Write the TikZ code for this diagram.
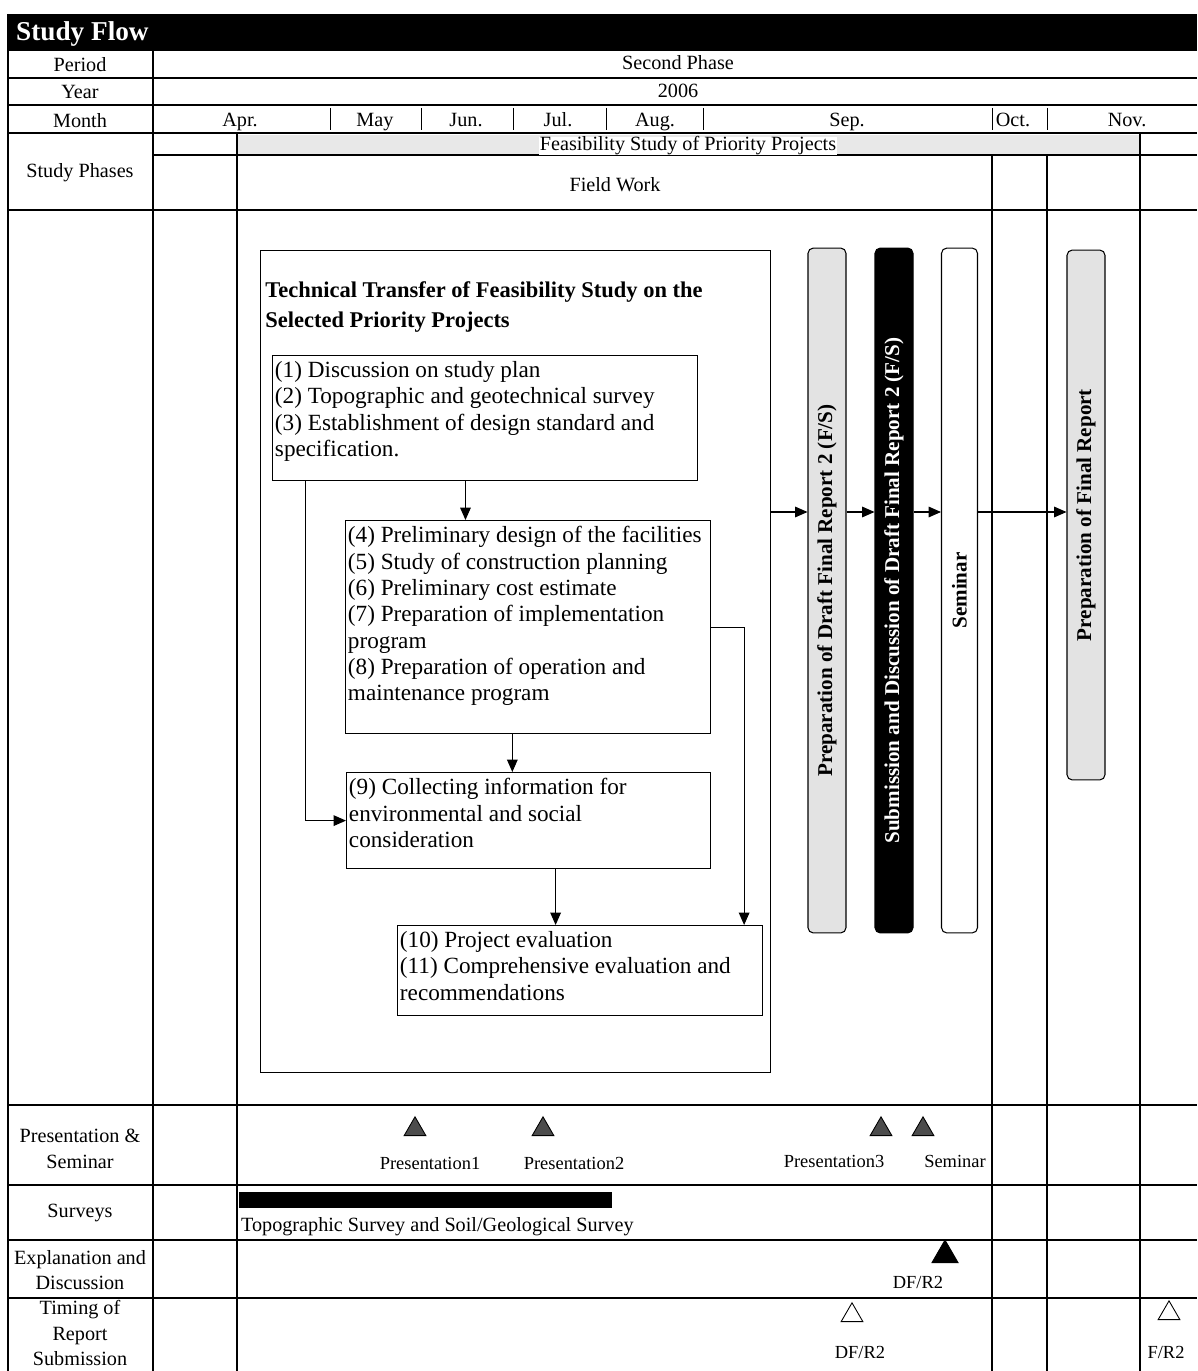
\documentclass[tikz,border=0pt]{standalone}
\usepackage{fontspec}
\setmainfont{Liberation Serif}
\usetikzlibrary{%
	arrows.meta,%
	positioning,%
	calc,%
	shapes.geometric
}

\tikzset{
	gridline/.style={line width=0.6pt},
	rowlabel/.style={align=center, font=\fontsize{11.5}{14.5}\selectfont},
	headtext/.style={font=\fontsize{11.5}{13}\selectfont, text height=1.6ex, text depth=0.4ex},
	taskbox/.style={draw, line width=0.7pt, anchor=north west, inner sep=0pt},
	tasktext/.style={anchor=north west, align=left, inner xsep=1.5pt, inner ysep=3.5pt, font=\fontsize{13.2}{15}\selectfont},
	phasebar/.style={draw, line width=0.6pt, rounded corners=3pt, inner sep=0pt, font=\bfseries\fontsize{12}{14}\selectfont},
	flowarrow/.style={-{Triangle[length=7pt,width=6pt]}, line width=0.6pt},
	tri/.style={regular polygon, regular polygon sides=3, draw, line width=0.5pt, inner sep=0pt, minimum size=0.5cm, anchor=south},
	marklabel/.style={font=\fontsize{10.5}{12}\selectfont, text height=1.6ex, text depth=0.4ex}
}

\begin{document}
\begin{tikzpicture}[>=Stealth, x=0.02cm, y=-0.02cm]
		\useasboundingbox (0,0) rectangle (1197,1371);
		% heading bar
		\fill (8,14) rectangle (1197,50);
		\node [anchor=west, text=white, font=\bfseries\fontsize{15.5}{17}\selectfont] (title) at (10,34) {Study Flow};
		% table
		\fill [gray!18] (237,135) rectangle (1140,155);
		\foreach \y in {50,78,105,133,210,1105,1185,1240,1298}
			\draw [gridline] (8,\y) -- (1197,\y);
		\draw [gridline] (153,155) -- (1197,155);
		\draw [gridline] (8,14) -- (8,1371);
		\draw [gridline] (153,50) -- (153,1371);
		\draw [gridline] (237,133) -- (237,1371);
		\draw [gridline] (1140,133) -- (1140,1371);
		\foreach \x in {992,1047}
			\draw [gridline] (\x,155) -- (\x,1371);
		\foreach \x in {330,421,513,606,703,992,1047}
			\draw [line width=0.4pt] (\x,108) -- (\x,130);
		% row labels
		\foreach \t/\y [count=\k] in {Period/65, Year/92, Month/121, Study Phases/173, {Presentation \&\\Seminar}/1149, Surveys/1213, {Explanation and\\Discussion}/1270, {Timing of\\Report\\Submission}/1333}
			\node [rowlabel] (row\k) at (80,\y) {\t};
		\node [headtext] (period) at (678,65) {Second Phase};
		\node [headtext] (year) at (678,93) {2006};
		\foreach \m/\x [count=\k] in {Apr./240, May/375, Jun./466, Jul./558, Aug./655, Sep./847, Oct./1013, Nov./1127}
			\node [headtext] (month\k) at (\x,122) {\m};
		\node [headtext, fill=white, inner sep=0.5pt] (fstudy) at (688,146) {Feasibility Study of Priority Projects};
		\node [headtext] (fwork) at (615,187) {Field Work};
		% technical transfer
		\node [taskbox, minimum width=10.2cm, minimum height=16.44cm] (outer) at (260,250) {};
		\node [anchor=north west, align=left, inner sep=0pt, font=\bfseries\fontsize{12.8}{17}\selectfont] (heading) at (265,281) {Technical Transfer of Feasibility Study on the\\Selected Priority Projects};
		\node [taskbox, minimum width=8.5cm, minimum height=2.5cm] (b1) at (272,355) {};
		\node [tasktext] (t1) at (b1.north west) {(1) Discussion on study plan\\(2) Topographic and geotechnical survey\\(3) Establishment of design standard and\\specification.};
		\node [taskbox, minimum width=7.3cm, minimum height=4.26cm] (b2) at (345,520) {};
		\node [tasktext] (t2) at (b2.north west) {(4) Preliminary design of the facilities\\(5) Study of construction planning\\(6) Preliminary cost estimate\\(7) Preparation of implementation\\program\\(8) Preparation of operation and\\maintenance program};
		\node [taskbox, minimum width=7.28cm, minimum height=1.92cm] (b3) at (346,772) {};
		\node [tasktext] (t3) at (b3.north west) {(9) Collecting information for\\environmental and social\\consideration};
		\node [taskbox, minimum width=7.3cm, minimum height=1.8cm] (b4) at (397,925) {};
		\node [tasktext] (t4) at (b4.north west) {(10) Project evaluation\\(11) Comprehensive evaluation and\\recommendations};
		\coordinate (a12) at ($(b1.south west)!0.454!(b1.south east)$);
		\coordinate (a13) at ($(b1.south west)!0.078!(b1.south east)$);
		\coordinate (a23) at ($(b2.south west)!0.457!(b2.south east)$);
		\coordinate (a34) at ($(b3.south west)!0.574!(b3.south east)$);
		\coordinate (a24) at ($(b4.north west)!0.948!(b4.north east)$);
		\draw [flowarrow] (a12) -- (a12 |- b2.north);
		\draw [flowarrow] (a13) |- (b3.west);
		\draw [flowarrow] (a23) -- (a23 |- b3.north);
		\draw [flowarrow] (a34) -- (a34 |- b4.north);
		\draw [flowarrow] (b2.east) -| (a24);
		% report bars
		\node [phasebar, fill=gray!22, minimum width=0.76cm, minimum height=13.7cm] (p1) at (827,590.5) {\rotatebox{90}{Preparation of Draft Final Report 2 (F/S)}};
		\node [phasebar, fill=black, text=white, minimum width=0.76cm, minimum height=13.7cm] (p2) at (894,590.5) {\rotatebox{90}{Submission and Discussion of Draft Final Report 2 (F/S)}};
		\node [phasebar, fill=white, minimum width=0.72cm, minimum height=13.7cm] (p3) at (959.5,590.5) {\rotatebox{90}{Seminar}};
		\node [phasebar, fill=gray!22, minimum width=0.76cm, minimum height=10.6cm] (p4) at (1086,515) {\rotatebox{90}{Preparation of Final Report}};
		\coordinate (flowy) at (0,512);
		\draw [flowarrow] (outer.east |- flowy) -- (p1.west |- flowy);
		\draw [flowarrow] (p1.east |- flowy) -- (p2.west |- flowy);
		\draw [flowarrow] (p2.east |- flowy) -- (p3.west |- flowy);
		\draw [flowarrow] (p3.east |- flowy) -- (p4.west |- flowy);
		% presentation & seminar
		\foreach \x/\n in {415/1, 543/2, 881/3, 923/4}
			\node [tri, fill=black!70] (pres\n) at (\x,1136) {};
		\node [marklabel] (lpres1) at (430,1165) {Presentation1};
		\node [marklabel] (lpres2) at (574,1165) {Presentation2};
		\node [marklabel] (lpres3) at (834,1163) {Presentation3};
		\node [marklabel] (lsem) at (955,1163) {Seminar};
		% surveys
		\node [fill=black, anchor=north west, inner sep=0pt, minimum width=7.46cm, minimum height=0.32cm] (survey) at (239,1192) {};
		\node [marklabel, anchor=west, inner sep=1pt, font=\fontsize{11.5}{13}\selectfont] (lsurvey) at (survey.south west |- 0,1227) {Topographic Survey and Soil/Geological Survey};
		% explanation and report submission
		\node [tri, fill=black, minimum size=0.6cm] (expl) at (945,1263) {};
		\node [marklabel] (lexpl) at (918,1284) {DF/R2};
		\node [tri, fill=white] (dfr) at (852,1322) {};
		\node [marklabel] (ldfr) at (860,1354) {DF/R2};
		\node [tri, fill=white] (fr) at (1169,1320) {};
		\node [marklabel] (lfr) at (1166,1354) {F/R2};
	\end{tikzpicture}
\end{document}
